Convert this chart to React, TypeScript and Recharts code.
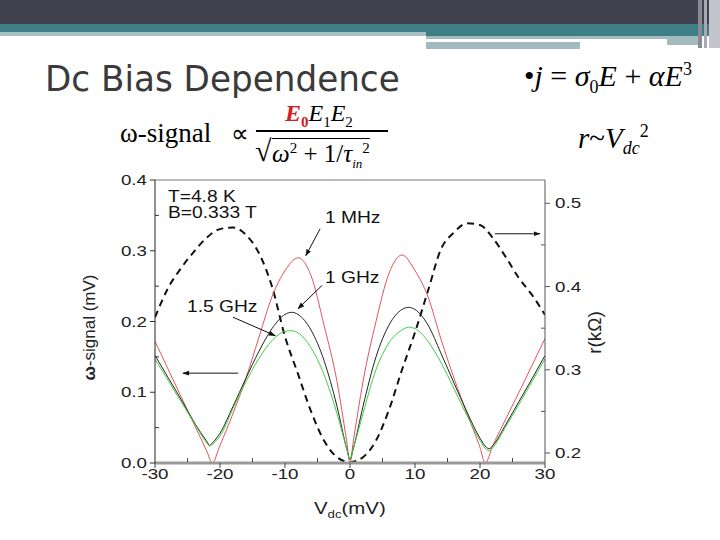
import React from 'react';
import { LineChart, Line, XAxis, YAxis, ReferenceLine } from 'recharts';

// bias voltage (mV) and ω-signal (mV), one pair of arrays per trace
const vdc1MHz = [-30, -28, -26, -24, -22, -21.2, -20, -18, -16, -14, -12, -10, -8, -6, -4, -2, -0.5, 0, 0.5, 2, 4, 6, 8, 10, 12, 14, 16, 18, 20, 20.8, 22, 24, 26, 28, 30];
const signal1MHz = [0.172, 0.133, 0.094, 0.055, 0.016, 0.0, 0.025, 0.07, 0.12, 0.178, 0.235, 0.272, 0.29, 0.265, 0.195, 0.115, 0.03, 0.0, 0.03, 0.115, 0.2, 0.268, 0.294, 0.272, 0.235, 0.175, 0.12, 0.07, 0.022, 0.0, 0.025, 0.063, 0.1, 0.138, 0.176];

const vdc1GHz = [-30, -28, -26, -24, -22, -21.6, -21, -20, -18, -16, -14, -12, -10, -9, -8, -6, -4, -2, -0.5, 0, 0.5, 2, 4, 6, 8, 9, 10, 12, 14, 16, 18, 20, 21, 21.4, 22, 24, 26, 28, 30];
const signal1GHz = [0.152, 0.121, 0.09, 0.058, 0.03, 0.025, 0.03, 0.042, 0.08, 0.12, 0.158, 0.19, 0.21, 0.213, 0.21, 0.188, 0.145, 0.08, 0.02, 0.005, 0.02, 0.08, 0.15, 0.195, 0.217, 0.22, 0.217, 0.195, 0.155, 0.113, 0.072, 0.035, 0.022, 0.02, 0.025, 0.055, 0.087, 0.119, 0.152];

const vdc15GHz = [-30, -28, -26, -24, -22, -21.6, -21, -20, -18, -16, -14, -12, -10, -9, -8, -6, -4, -2, -0.5, 0, 0.5, 2, 4, 6, 8, 9, 10, 12, 14, 16, 18, 20, 21, 21.4, 22, 24, 26, 28, 30];
const signal15GHz = [0.147, 0.117, 0.087, 0.057, 0.028, 0.024, 0.028, 0.038, 0.077, 0.115, 0.148, 0.173, 0.186, 0.187, 0.184, 0.163, 0.125, 0.07, 0.02, 0.005, 0.02, 0.07, 0.132, 0.17, 0.188, 0.192, 0.19, 0.172, 0.142, 0.105, 0.067, 0.032, 0.019, 0.017, 0.022, 0.052, 0.083, 0.115, 0.147];

// resistance r (kΩ), right axis
const vdcR = [-30, -28, -26, -24, -22, -20, -18, -16, -14, -12, -10, -8, -6, -4, -2, 0, 2, 4, 6, 8, 10, 12, 14, 16, 18, 20, 22, 24, 26, 28, 30];
const resistance = [0.363, 0.398, 0.422, 0.442, 0.459, 0.469, 0.471, 0.462, 0.44, 0.4, 0.34, 0.295, 0.25, 0.215, 0.195, 0.189, 0.195, 0.215, 0.252, 0.3, 0.345, 0.395, 0.445, 0.465, 0.476, 0.474, 0.458, 0.435, 0.41, 0.39, 0.366];

const xTicks = [-30, -25, -20, -15, -10, -5, 0, 5, 10, 15, 20, 25, 30];
const leftTicks = [0, 0.05, 0.1, 0.15, 0.2, 0.25, 0.3, 0.35, 0.4];
const rightTicks = [0.2, 0.25, 0.3, 0.35, 0.4, 0.45, 0.5];

const toRows = (xs: number[], ys: number[]) => xs.map((v, i) => ({ vdc: v, y: ys[i] }));
const data1MHz = toRows(vdc1MHz, signal1MHz);
const data1GHz = toRows(vdc1GHz, signal1GHz);
const data15GHz = toRows(vdc15GHz, signal15GHz);
const dataR = toRows(vdcR, resistance);

const tickFont = { fontFamily: 'Liberation Sans, Arial, sans-serif', fontSize: 15, fill: '#222' };
const isMajor = (v: number) => Math.abs(v * 10 - Math.round(v * 10)) < 1e-6;

// the source figure is stretched sideways, so labels get a horizontal scale
const Label = ({ x, y, anchor, children }: any) => (
  <g transform={`translate(${x},${y}) scale(1.25,1)`}>
    <text x={0} y={0} textAnchor={anchor} {...tickFont}>{children}</text>
  </g>
);

const XTick = (p: any) => {
  const v = p.payload.value;
  if (v % 10 !== 0) return <line x1={p.x} x2={p.x} y1={p.y - 1} y2={p.y - 5} stroke="#444" />;
  return (
    <g>
      <line x1={p.x} x2={p.x} y1={p.y} y2={p.y + 5} stroke="#444" />
      <Label x={p.x} y={p.y + 16} anchor="middle">{v}</Label>
    </g>
  );
};

const LeftTick = (p: any) => {
  const v = p.payload.value;
  if (!isMajor(v)) return <line x1={p.x} x2={p.x + 4} y1={p.y} y2={p.y} stroke="#333" />;
  return (
    <g>
      <line x1={p.x} x2={p.x - 5} y1={p.y} y2={p.y} stroke="#333" />
      <Label x={p.x - 8} y={p.y + 5} anchor="end">{v.toFixed(1)}</Label>
    </g>
  );
};

const RightTick = (p: any) => {
  const v = p.payload.value;
  if (!isMajor(v)) return <line x1={p.x} x2={p.x - 4} y1={p.y} y2={p.y} stroke="#555" />;
  return (
    <g>
      <line x1={p.x} x2={p.x + 5} y1={p.y} y2={p.y} stroke="#555" />
      <Label x={p.x + 10} y={p.y + 5} anchor="start">{v.toFixed(1)}</Label>
    </g>
  );
};

const Arrow = (p: any) => (
  <line x1={p.x1} y1={p.y1} x2={p.x2} y2={p.y2} stroke="#111" strokeWidth={1} markerEnd="url(#arrowHead)" />
);

const serif = 'Liberation Serif, Times New Roman, serif';
const sans = 'Liberation Sans, Arial, sans-serif';
const abs = (left: number, top: number, extra: React.CSSProperties = {}): React.CSSProperties => ({
  position: 'absolute', left, top, lineHeight: 1, whiteSpace: 'nowrap', ...extra
});
const note = (left: number, top: number): React.CSSProperties =>
  abs(left, top, { fontFamily: sans, fontSize: 16, color: '#111', transform: 'scaleX(1.2)', transformOrigin: 'left top' });

export default function App() {
  return (
    <div style={{ position: 'absolute', left: 0, top: 0, width: 720, height: 540, background: '#fff', overflow: 'hidden' }}>
      {/* header bands */}
      <div style={abs(0, 0, { width: 720, height: 24, background: '#41424f' })} />
      <div style={abs(0, 24, { width: 720, height: 8, background: '#3e7f85' })} />
      <div style={abs(0, 32, { width: 426, height: 4, background: '#a7c0c3' })} />
      <div style={abs(426, 32, { width: 294, height: 4, background: '#3e7f85' })} />
      <div style={abs(426, 36, { width: 154, height: 13, background: '#a3bbbe' })} />
      <div style={abs(580, 36, { width: 120, height: 6, background: '#a3bbbe' })} />
      <div style={abs(667, 36, { width: 33, height: 9, background: '#a3bbbe' })} />
      <div style={abs(426, 39, { width: 241, height: 3, background: '#fff' })} />
      <div style={abs(698, 0, { width: 4, height: 48, background: '#8a8a94' })} />
      <div style={abs(704, 0, { width: 3, height: 48, background: '#a8a8b0' })} />
      <div style={abs(709, 0, { width: 11, height: 48, background: '#c4c4cc' })} />

      <div style={abs(45, 61, { fontFamily: 'DejaVu Sans, sans-serif', fontSize: 36, color: '#3a3a3a', transform: 'scaleX(0.95)', transformOrigin: 'left top' })}>
        Dc Bias Dependence
      </div>

      {/* formulas */}
      <div style={abs(120, 120, { fontFamily: serif, fontSize: 27 })}>ω-signal</div>
      <div style={abs(231, 121, { fontFamily: serif, fontSize: 25 })}>∝</div>
      <div style={abs(285, 101, { fontFamily: serif, fontSize: 24 })}>
        <i style={{ color: '#d42020', fontWeight: 'bold' }}>E</i><sub style={{ color: '#d42020', fontWeight: 'bold', fontSize: 15 }}>0</sub>
        <i>E</i><sub style={{ fontSize: 15 }}>1</sub><i>E</i><sub style={{ fontSize: 15 }}>2</sub>
      </div>
      <div style={abs(256, 130, { width: 132, height: 2, background: '#000' })} />
      <div style={abs(255, 136, { fontFamily: serif, fontSize: 30 })}>√</div>
      <div style={abs(272, 138, { fontFamily: serif, fontSize: 25, borderTop: '1.5px solid #000', paddingTop: 2 })}>
        <i>ω</i><sup style={{ fontSize: 15 }}>2</sup> + 1/<i>τ</i><sub style={{ fontSize: 13 }}><i>in</i></sub><sup style={{ fontSize: 15 }}>2</sup>
      </div>

      <div style={abs(524, 60, { fontFamily: serif, fontSize: 30 })}>
        •<i>j</i> = <i>σ</i><sub style={{ fontSize: 18 }}>0</sub><i>E</i> + <i>α</i><i>E</i><sup style={{ fontSize: 18 }}>3</sup>
      </div>
      <div style={abs(578, 122, { fontFamily: serif, fontSize: 29 })}>
        <i>r</i>~<i>V</i><sub style={{ fontSize: 18 }}><i>dc</i></sub><sup style={{ fontSize: 18 }}>2</sup>
      </div>

      {/* chart */}
      <div style={abs(60, 165)}>
        <LineChart width={545} height={328} margin={{ top: 15, right: 0, left: 0, bottom: 0 }}>
          <defs>
            <marker id="arrowHead" viewBox="0 0 10 10" refX="9" refY="5" markerWidth="7" markerHeight="7" orient="auto">
              <path d="M0,1.5 L10,5 L0,8.5 z" fill="#111" />
            </marker>
          </defs>
          <XAxis
            dataKey="vdc"
            type="number"
            domain={[-30, 30]}
            ticks={xTicks}
            interval={0}
            allowDataOverflow
            height={30}
            tickSize={0}
            tickMargin={0}
            axisLine={{ stroke: '#9a9a9a', strokeWidth: 3 }}
            tick={<XTick />}
          />
          <YAxis
            yAxisId="left"
            orientation="left"
            type="number"
            domain={[0, 0.4]}
            ticks={leftTicks}
            interval={0}
            allowDataOverflow
            width={95}
            tickSize={0}
            tickMargin={0}
            axisLine={{ stroke: '#222' }}
            tick={<LeftTick />}
          />
          <YAxis
            yAxisId="right"
            orientation="right"
            type="number"
            domain={[0.188, 0.528]}
            ticks={rightTicks}
            interval={0}
            allowDataOverflow
            width={60}
            tickSize={0}
            tickMargin={0}
            axisLine={{ stroke: '#555' }}
            tick={<RightTick />}
          />
          <ReferenceLine yAxisId="left" y={0.4} stroke="#777" />

          <Line yAxisId="right" data={dataR} dataKey="y" type="monotone" stroke="#111" strokeWidth={2} strokeDasharray="7 5" dot={false} isAnimationActive={false} />
          <Line yAxisId="left" data={data1MHz} dataKey="y" type="monotone" stroke="#e0555e" strokeWidth={1} dot={false} isAnimationActive={false} />
          <Line yAxisId="left" data={data1GHz} dataKey="y" type="monotone" stroke="#222" strokeWidth={1} dot={false} isAnimationActive={false} />
          <Line yAxisId="left" data={data15GHz} dataKey="y" type="monotone" stroke="#3fcf3f" strokeWidth={1} dot={false} isAnimationActive={false} />

          <ReferenceLine yAxisId="left" segment={[{ x: -4.6, y: 0.331 }, { x: -6.8, y: 0.293 }]} shape={<Arrow />} />
          <ReferenceLine yAxisId="left" segment={[{ x: -4.3, y: 0.251 }, { x: -8.0, y: 0.218 }]} shape={<Arrow />} />
          <ReferenceLine yAxisId="left" segment={[{ x: -18.0, y: 0.206 }, { x: -11.5, y: 0.18 }]} shape={<Arrow />} />
          <ReferenceLine yAxisId="left" segment={[{ x: -17.2, y: 0.127 }, { x: -25.7, y: 0.127 }]} shape={<Arrow />} />
          <ReferenceLine yAxisId="left" segment={[{ x: 22.3, y: 0.324 }, { x: 29.2, y: 0.324 }]} shape={<Arrow />} />
        </LineChart>
      </div>

      {/* annotations and axis titles */}
      <div style={note(168, 189)}>T=4.8 K</div>
      <div style={note(168, 205)}>B=0.333 T</div>
      <div style={note(325, 210)}>1 MHz</div>
      <div style={note(325, 270)}>1 GHz</div>
      <div style={note(187, 299)}>1.5 GHz</div>

      <div style={abs(9, 319, { width: 160, textAlign: 'center', fontFamily: sans, fontSize: 17, color: '#222', transform: 'rotate(-90deg)' })}>
        <b>ω</b>-signal (mV)
      </div>
      <div style={abs(544, 323, { width: 100, textAlign: 'center', fontFamily: sans, fontSize: 19, color: '#222', transform: 'rotate(-90deg)' })}>
        r(kΩ)
      </div>
      <div style={abs(314, 500, { fontFamily: sans, fontSize: 17, color: '#222', transform: 'scaleX(1.2)', transformOrigin: 'left top' })}>
        V<sub style={{ fontSize: 11 }}>dc</sub>(mV)
      </div>
    </div>
  );
}
